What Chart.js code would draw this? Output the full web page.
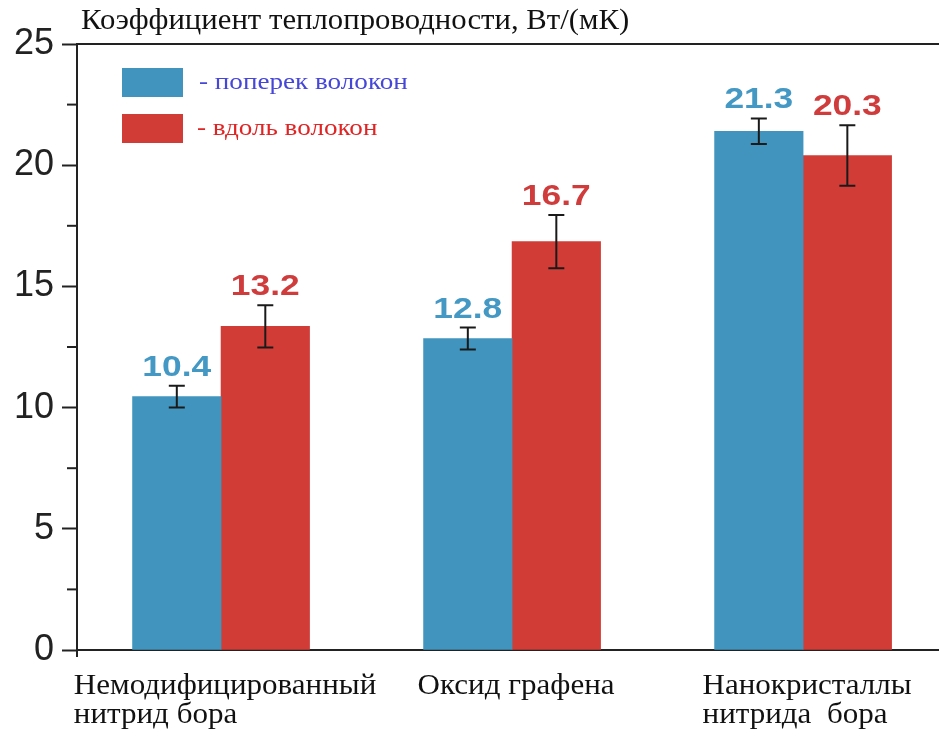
<!DOCTYPE html>
<html>
<head>
<meta charset="utf-8">
<script src="https://cdn.jsdelivr.net/npm/chart.js@4"></script>
<style>
  html, body { margin: 0; padding: 0; background: #fff; overflow: hidden; }
  #wrap { width: 939px; height: 731px; }
</style>
</head>
<body>
<div id="wrap"><canvas id="c" width="939" height="731"></canvas></div>
<script>
// ---- data ----
const titleText = 'Коэффициент теплопроводности, Вт/(мК)';
const categories = [['Немодифицированный', 'нитрид бора'], ['Оксид графена'], ['Нанокристаллы', 'нитрида  бора']];
const seriesNames = ['- поперек волокон', '- вдоль волокон'];
const acrossValues = [10.45, 12.85, 21.4];
const alongValues = [13.35, 16.85, 20.4];
const acrossErrors = [0.45, 0.45, 0.53];
const alongErrors = [0.87, 1.1, 1.25];
const acrossLabels = ['10.4', '12.8', '21.3'];
const alongLabels = ['13.2', '16.7', '20.3'];
const yTicks = [0, 5, 10, 15, 20, 25];
const yMinorTicks = [2.5, 7.5, 12.5, 17.5, 22.5];

// ---- style ----
const BLUE = '#4094bd';
const RED = '#d13c37';
const BLUE_TXT = '#4398c4';
const RED_TXT = '#d03b3b';
const AXIS = '#222';

function stretchedText(ctx, text, x, y, sx, align) {
  ctx.save();
  ctx.translate(x, y);
  ctx.scale(sx, 1);
  ctx.textAlign = align;
  ctx.fillText(text, 0, 0);
  ctx.restore();
}

const overlay = {
  id: 'overlay',
  afterDraw(chart) {
    const ctx = chart.ctx;
    const ys = chart.scales.y;
    const ca = chart.chartArea;
    ctx.save();
    // top frame line
    ctx.strokeStyle = AXIS; ctx.lineWidth = 2;
    ctx.beginPath();
    const yTop = ys.getPixelForValue(yTicks[yTicks.length - 1]);
    ctx.moveTo(ca.left, yTop); ctx.lineTo(ca.right, yTop); ctx.stroke();
    // minor ticks
    yMinorTicks.forEach(v => {
      const p = ys.getPixelForValue(v);
      ctx.beginPath(); ctx.moveTo(ca.left - 10, p); ctx.lineTo(ca.left, p); ctx.stroke();
    });
    // axis stub below zero
    ctx.beginPath(); ctx.moveTo(ca.left, ca.bottom); ctx.lineTo(ca.left, ca.bottom + 7); ctx.stroke();

    // error bars & value labels
    const sets = [
      { vals: acrossValues, errs: acrossErrors, labels: acrossLabels, color: BLUE_TXT },
      { vals: alongValues, errs: alongErrors, labels: alongLabels, color: RED_TXT }
    ];
    sets.forEach((s, di) => {
      const meta = chart.getDatasetMeta(di);
      meta.data.forEach((bar, i) => {
        const x = bar.x;
        const top = ys.getPixelForValue(s.vals[i] + s.errs[i]);
        const bot = ys.getPixelForValue(s.vals[i] - s.errs[i]);
        ctx.strokeStyle = '#1a1a1a'; ctx.lineWidth = 2;
        ctx.beginPath();
        ctx.moveTo(x, top); ctx.lineTo(x, bot);
        ctx.moveTo(x - 8, top); ctx.lineTo(x + 8, top);
        ctx.moveTo(x - 8, bot); ctx.lineTo(x + 8, bot);
        ctx.stroke();
        ctx.fillStyle = s.color;
        ctx.font = 'bold 30px "Liberation Sans", Arial, sans-serif';
        ctx.textBaseline = 'alphabetic';
        stretchedText(ctx, s.labels[i], x, top - 10, 1.18, 'center');
      });
    });

    // title
    ctx.fillStyle = '#111';
    ctx.font = '29px "Liberation Serif", "Times New Roman", serif';
    ctx.textBaseline = 'alphabetic';
    stretchedText(ctx, titleText, 81, 29, 1.06, 'left');

    // legend
    const legendColors = [BLUE, RED];
    const legendText = ['#4646d8', '#e02424'];
    const legendY = [68, 114];
    legendColors.forEach((c, i) => {
      ctx.fillStyle = c;
      ctx.fillRect(122, legendY[i], 61, 29);
      ctx.fillStyle = legendText[i];
      ctx.font = '24px "Liberation Serif", "Times New Roman", serif';
      ctx.textBaseline = 'middle';
      stretchedText(ctx, seriesNames[i], 199 - i * 2, legendY[i] + 15, 1.13, 'left');
    });

    // category labels
    ctx.fillStyle = '#111';
    ctx.font = '29px "Liberation Serif", "Times New Roman", serif';
    ctx.textBaseline = 'alphabetic';
    const sxCat = 1.07;
    const meta0 = chart.getDatasetMeta(0);
    const meta1 = chart.getDatasetMeta(1);
    categories.forEach((lines, i) => {
      const cx = (meta0.data[i].x + meta1.data[i].x) / 2;
      const w = ctx.measureText(lines[0]).width * sxCat;
      const sx = cx - w / 2 + 4;
      lines.forEach((t, k) => stretchedText(ctx, t, sx, 694 + k * 29, sxCat, 'left'));
    });
    ctx.restore();
  }
};

new Chart(document.getElementById('c'), {
  type: 'bar',
  data: {
    datasets: [
      { label: seriesNames[0], data: acrossValues.map((v, i) => ({ x: i, y: v })), backgroundColor: BLUE, borderWidth: 0 },
      { label: seriesNames[1], data: alongValues.map((v, i) => ({ x: i, y: v })), backgroundColor: RED, borderWidth: 0 }
    ]
  },
  options: {
    responsive: false,
    animation: false,
    devicePixelRatio: 1,
    layout: { padding: { top: 44, right: 0, left: 0, bottom: 0 } },
    barThickness: 88.5,
    plugins: { legend: { display: false }, tooltip: { enabled: false }, title: { display: false } },
    scales: {
      x: {
        type: 'linear',
        min: -0.495,
        max: 2.467,
        offset: false,
        afterBuildTicks: (s) => { s.ticks = categories.map((c, i) => ({ value: i })); },
        afterFit: (s) => { s.height = 81; },
        ticks: { display: false },
        grid: { display: false },
        border: { display: true, color: AXIS, width: 2 }
      },
      y: {
        min: 0,
        max: 25,
        afterBuildTicks: (s) => { s.ticks = yTicks.map(v => ({ value: v })); },
        afterFit: (s) => { s.width = 77; },
        ticks: { color: '#222', padding: 8, font: { family: '"Liberation Sans", Arial, sans-serif', size: 36 } },
        grid: { drawOnChartArea: false, tickLength: 15, tickColor: AXIS, tickWidth: 2 },
        border: { display: true, color: AXIS, width: 2 }
      }
    }
  },
  plugins: [overlay]
});
</script>
</body>
</html>
